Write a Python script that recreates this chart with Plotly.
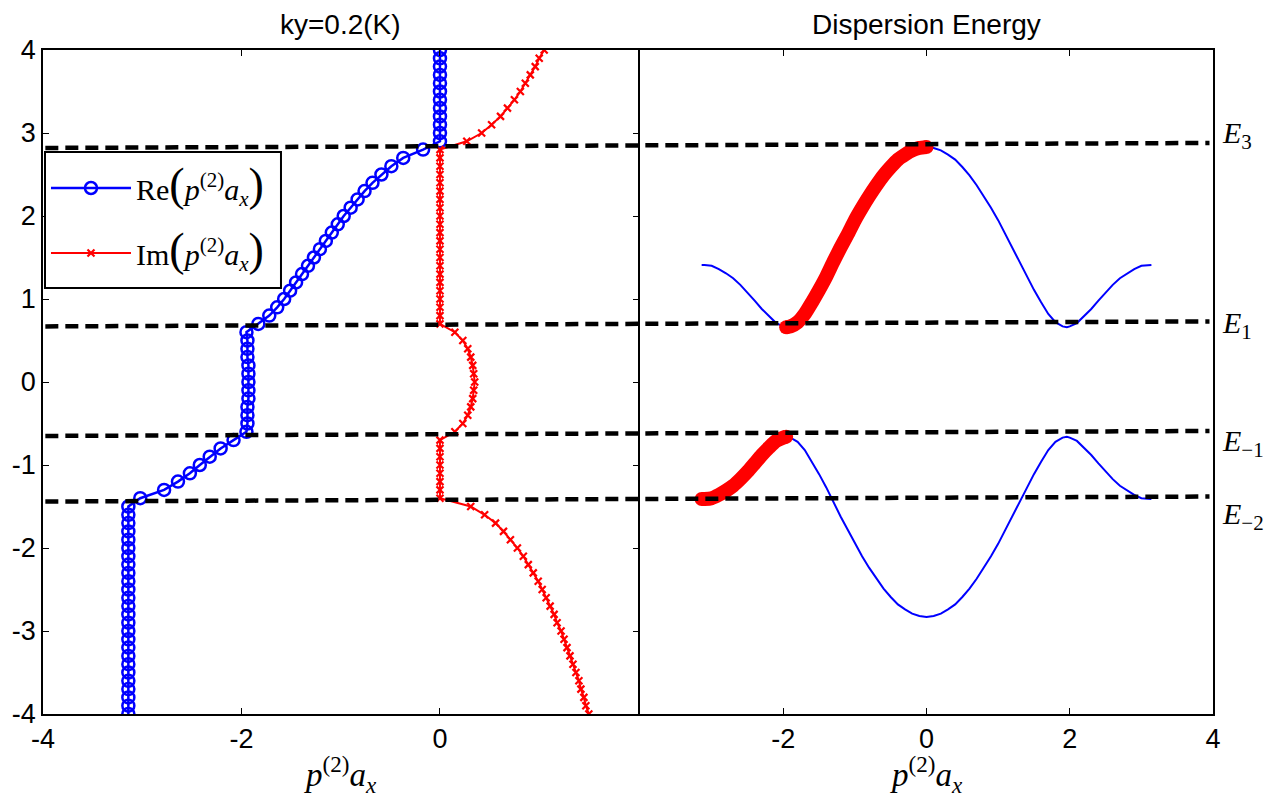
import plotly.graph_objects as go

# ---------------- data ----------------
# energy grid used for the complex wave-number solutions (left panel)
energy = [-4.0, -3.9, -3.8, -3.7, -3.6, -3.5, -3.4, -3.3, -3.2, -3.1,
          -3.0, -2.9, -2.8, -2.7, -2.6, -2.5, -2.4, -2.3, -2.2, -2.1,
          -2.0, -1.9, -1.8, -1.7, -1.6, -1.5, -1.4, -1.3, -1.2, -1.1,
          -1.0, -0.9, -0.8, -0.7, -0.6, -0.5, -0.4, -0.3, -0.2, -0.1,
          0.0, 0.1, 0.2, 0.3, 0.4, 0.5, 0.6, 0.7, 0.8, 0.9,
          1.0, 1.1, 1.2, 1.3, 1.4, 1.5, 1.6, 1.7, 1.8, 1.9,
          2.0, 2.1, 2.2, 2.3, 2.4, 2.5, 2.6, 2.7, 2.8, 2.9,
          3.0, 3.1, 3.2, 3.3, 3.4, 3.5, 3.6, 3.7, 3.8, 3.9, 4.0]

re_pax = [-3.14] * 26 + [
    -3.02, -2.78, -2.64, -2.52, -2.42, -2.32, -2.21, -2.08,
    -1.95, -1.94, -1.94, -1.94, -1.93, -1.93, -1.93, -1.93, -1.93, -1.94, -1.94, -1.94, -1.95,
    -1.83, -1.72, -1.64, -1.57, -1.51, -1.45, -1.39, -1.33, -1.27, -1.21, -1.15,
    -1.09, -1.03, -0.97, -0.90, -0.83, -0.76, -0.68, -0.59, -0.49, -0.37, -0.17,
] + [0.0] * 12

im_pax = [1.50, 1.47, 1.45, 1.42, 1.40, 1.37, 1.34, 1.31, 1.28, 1.25,
          1.22, 1.18, 1.15, 1.11, 1.07, 1.03, 0.99, 0.94, 0.89, 0.84,
          0.78, 0.71, 0.64, 0.56, 0.45, 0.31] + [0.0] * 8 + [
    0.15, 0.23, 0.28, 0.31, 0.33, 0.34, 0.35, 0.34, 0.33, 0.31, 0.28, 0.23, 0.15,
] + [0.0] * 22 + [0.27, 0.42, 0.52, 0.61, 0.68, 0.75, 0.81, 0.86, 0.91, 0.96, 1.00, 1.05]

# band structure (right panel)
k_band = [-3.14, -3.1, -3.0, -2.9, -2.8, -2.7, -2.6, -2.5, -2.4, -2.3, -2.2, -2.1,
          -2.0, -1.96, -1.9, -1.8, -1.7, -1.6, -1.5, -1.4, -1.3, -1.2, -1.1,
          -1.0, -0.9, -0.8, -0.7, -0.6, -0.5, -0.4, -0.3, -0.2, -0.1,
          0.0, 0.1, 0.2, 0.3, 0.4, 0.5, 0.6, 0.7, 0.8, 0.9, 1.0,
          1.1, 1.2, 1.3, 1.4, 1.5, 1.6, 1.7, 1.8, 1.9, 1.96, 2.0,
          2.1, 2.2, 2.3, 2.4, 2.5, 2.6, 2.7, 2.8, 2.9, 3.0, 3.1, 3.14]

e_upper = [1.41, 1.41, 1.40, 1.36, 1.31, 1.25, 1.17, 1.08, 0.98, 0.88, 0.79, 0.71,
           0.67, 0.66, 0.67, 0.72, 0.82, 0.96, 1.11, 1.27, 1.45, 1.62, 1.78,
           1.95, 2.10, 2.24, 2.37, 2.49, 2.59, 2.68, 2.74, 2.79, 2.82,
           2.83, 2.82, 2.79, 2.74, 2.68, 2.59, 2.49, 2.37, 2.24, 2.10, 1.95,
           1.78, 1.62, 1.45, 1.27, 1.11, 0.96, 0.82, 0.72, 0.67, 0.66, 0.67,
           0.71, 0.79, 0.88, 0.98, 1.08, 1.17, 1.25, 1.31, 1.36, 1.40, 1.41, 1.41]

e_lower = [-1.41, -1.41, -1.40, -1.36, -1.31, -1.25, -1.17, -1.08, -0.98, -0.88, -0.79, -0.71,
           -0.67, -0.66, -0.67, -0.72, -0.82, -0.96, -1.11, -1.27, -1.45, -1.62, -1.78,
           -1.95, -2.10, -2.24, -2.37, -2.49, -2.59, -2.68, -2.74, -2.79, -2.82,
           -2.83, -2.82, -2.79, -2.74, -2.68, -2.59, -2.49, -2.37, -2.24, -2.10, -1.95,
           -1.78, -1.62, -1.45, -1.27, -1.11, -0.96, -0.82, -0.72, -0.67, -0.66, -0.67,
           -0.71, -0.79, -0.88, -0.98, -1.08, -1.17, -1.25, -1.31, -1.36, -1.40, -1.41, -1.41]

# propagating windows highlighted on the band plot
upper_window = (-1.96, 0.0)
lower_window = (-3.14, -1.96)

# band-edge energies and their labels
level_values = [2.83, 0.68, -0.64, -1.43]
level_labels = ["E<sub>3</sub>", "E<sub>1</sub>", "E<sub>\u22121</sub>", "E<sub>\u22122</sub>"]
level_label_pos = [2.98, 0.69, -0.74, -1.62]

# ---------------- figure ----------------
W, H = 1274, 800
ML, MR, MT, MB = 38, 61, 50, 86
LW = 1.6
plot_w = W - ML - MR
plot_h = H - MT - MB
split = (636 - ML) / plot_w
split2 = split + LW / plot_w  # lets the two inner frame lines fall on one another


def px_x(px):
    return (px - ML) / plot_w


def px_y(py):
    return (H - MB - py) / plot_h


SANS = "Liberation Sans, Arial, sans-serif"
SERIF = "Liberation Serif, Times New Roman, serif"

big = "<span style='font-size:46px'>"
pax = "<i>p</i><sup>(2)</sup><i>a</i><sub><i>x</i></sub>"
legend_re = "Re" + big + "(</span>" + pax + big + ")</span>"
legend_im = "Im" + big + "(</span>" + pax + big + ")</span>"

fig = go.Figure()

fig.add_trace(go.Scatter(
    x=re_pax, y=energy, mode="lines+markers", name=legend_re, legend="legend",
    line=dict(color="#0000ff", width=2.5),
    marker=dict(symbol="circle-open", size=12, color="#0000ff", line=dict(width=2.5)),
    xaxis="x", yaxis="y"))

fig.add_trace(go.Scatter(
    x=im_pax, y=energy, mode="lines+markers", name=legend_im, legend="legend2",
    line=dict(color="#ff0000", width=2),
    marker=dict(symbol="x-thin", size=7, color="#ff0000", line=dict(width=2.2, color="#ff0000")),
    xaxis="x", yaxis="y"))

# thin band curves
for band in (e_upper, e_lower):
    fig.add_trace(go.Scatter(
        x=k_band, y=band, mode="lines", showlegend=False,
        line=dict(color="#0000ff", width=2),
        xaxis="x2", yaxis="y2"))

# thick highlighted pieces of the bands
for band, (k0, k1) in ((e_upper, upper_window), (e_lower, lower_window)):
    kk = [k for k in k_band if k0 <= k <= k1]
    ee = [e for k, e in zip(k_band, band) if k0 <= k <= k1]
    fig.add_trace(go.Scatter(
        x=kk, y=ee, mode="lines", showlegend=False,
        line=dict(color="#ff0000", width=14, shape="spline", smoothing=0.6),
        xaxis="x2", yaxis="y2"))
    fig.add_trace(go.Scatter(
        x=[kk[0], kk[-1]], y=[ee[0], ee[-1]], mode="markers", showlegend=False,
        marker=dict(color="#ff0000", size=14),
        xaxis="x2", yaxis="y2"))

# dashed band-edge lines across both panels (slightly slanted as drawn)
shapes = []
for v in level_values:
    shapes.append(dict(type="line", xref="paper", yref="y",
                       x0=0.002, x1=0.997, y0=v - 0.01, y1=v + 0.05,
                       line=dict(color="black", width=4.5, dash="13px,7px")))

# frame of the legend box
shapes.append(dict(type="rect", xref="paper", yref="paper",
                   x0=px_x(40), x1=px_x(277), y0=px_y(288), y1=px_y(152),
                   fillcolor="white", line=dict(color="black", width=2), layer="above"))

annotations = []
for lab, yv in zip(level_labels, level_label_pos):
    annotations.append(dict(xref="paper", yref="y", x=1.006, y=yv, xanchor="left",
                            yanchor="middle", showarrow=False,
                            text="<i>" + lab.replace("<sub>", "</i><sub>"),
                            font=dict(family=SERIF, size=30, color="black")))

for xc in (split / 2, (1 + split2) / 2):
    annotations.append(dict(xref="paper", yref="paper", x=xc, y=px_y(799),
                            xanchor="center", yanchor="bottom", showarrow=False,
                            borderpad=0,
                            text=pax, font=dict(family=SERIF, size=33, color="black")))

annotations.append(dict(xref="paper", yref="paper", x=split / 2, y=1.012, xanchor="center",
                        yanchor="bottom", showarrow=False, text="ky=0.2(K)",
                        font=dict(family=SANS, size=28, color="black")))
annotations.append(dict(xref="paper", yref="paper", x=(1 + split2) / 2, y=1.012, xanchor="center",
                        yanchor="bottom", showarrow=False, text="Dispersion Energy",
                        font=dict(family=SANS, size=28, color="black")))

axis_common = dict(showline=True, linecolor="black", linewidth=LW, mirror="ticks",
                   ticks="inside", ticklen=6, tickwidth=1.3, tickcolor="black",
                   showgrid=False, zeroline=False,
                   tickfont=dict(family=SANS, size=27, color="black"))

yaxis2_style = dict(axis_common)
yaxis2_style.update(mirror=True, ticks="")

legend_style = dict(xanchor="left", yanchor="middle", bgcolor="rgba(0,0,0,0)",
                    borderwidth=0, font=dict(family=SERIF, size=30, color="black"),
                    itemwidth=80)

fig.update_layout(
    width=W, height=H,
    margin=dict(l=ML, r=MR, t=MT, b=MB),
    paper_bgcolor="white", plot_bgcolor="white",
    xaxis=dict(domain=[0, split], range=[-4, 2], tickvals=[-4, -2, 0, 2],
               ticktext=["-4", "-2", "0", ""], **axis_common),
    yaxis=dict(range=[-4, 4], tickvals=[-4, -3, -2, -1, 0, 1, 2, 3, 4],
               ticktext=["-4", "-3", "-2", "-1", "0", "1", "2", "3", "4"],
               anchor="x", **axis_common),
    xaxis2=dict(domain=[split2, 1], range=[-4, 4], tickvals=[-4, -2, 0, 2, 4],
                ticktext=["", "-2", "0", "2", "4"], anchor="y2", **axis_common),
    yaxis2=dict(range=[-4, 4], showticklabels=False, anchor="x2", **yaxis2_style),
    legend=dict(x=px_x(41), y=px_y(188), **legend_style),
    legend2=dict(x=px_x(41), y=px_y(253), **legend_style),
    shapes=shapes,
    annotations=annotations,
    showlegend=True,
)

fig.write_html("out.html")
